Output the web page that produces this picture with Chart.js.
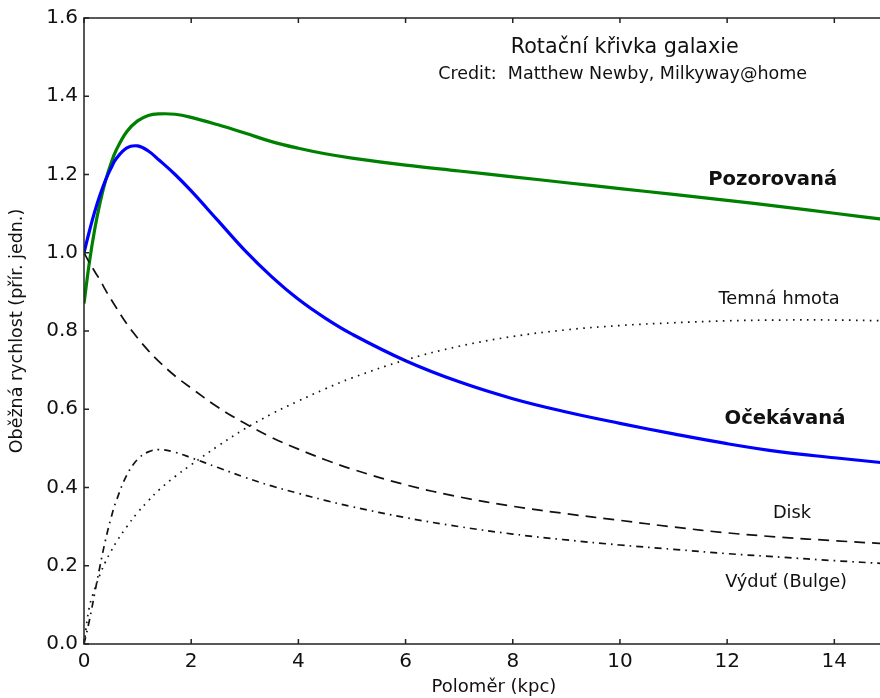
<!DOCTYPE html>
<html>
<head>
<meta charset="utf-8">
<script src="https://cdn.jsdelivr.net/npm/chart.js@4.4.1/dist/chart.umd.min.js"></script>
<style>
  html, body { margin: 0; padding: 0; background: #fff; overflow: hidden; }
  #wrap { width: 880px; height: 698px; overflow: hidden; }
</style>
</head>
<body>
<div id="wrap"><canvas id="rotChart" width="906" height="698"></canvas></div>
<script>
// poloměr (kpc) - společné body pro všechny křivky
const radius = [0, 0.1, 0.2, 0.3, 0.4, 0.5, 0.6, 0.8, 1.0, 1.2, 1.4, 1.7, 2, 2.5, 3, 3.5, 4, 4.5, 5, 6, 7, 8, 9, 10, 11, 12, 13, 14, 15];

// pozorovaná rychlost
const observed = [0.87, 0.975, 1.06, 1.128, 1.183, 1.227, 1.262, 1.31, 1.337, 1.351, 1.355, 1.354, 1.346, 1.327, 1.306, 1.284, 1.267, 1.253, 1.242, 1.224, 1.209, 1.194, 1.179, 1.164, 1.149, 1.134, 1.118, 1.101, 1.084];
// očekávaná rychlost
const expected = [1.0, 1.055, 1.105, 1.148, 1.185, 1.215, 1.24, 1.268, 1.273, 1.26, 1.237, 1.2, 1.158, 1.082, 1.006, 0.939, 0.881, 0.833, 0.792, 0.724, 0.67, 0.627, 0.593, 0.564, 0.537, 0.512, 0.491, 0.476, 0.462];
// temná hmota
const darkMatter = [0, 0.095, 0.14, 0.178, 0.21, 0.236, 0.26, 0.3, 0.336, 0.366, 0.394, 0.428, 0.458, 0.506, 0.55, 0.588, 0.621, 0.652, 0.68, 0.726, 0.761, 0.786, 0.803, 0.814, 0.821, 0.826, 0.828, 0.828, 0.826];
// disk
const disk = [1.0, 0.975, 0.952, 0.93, 0.905, 0.882, 0.86, 0.818, 0.782, 0.75, 0.722, 0.685, 0.654, 0.605, 0.564, 0.528, 0.498, 0.471, 0.447, 0.407, 0.376, 0.352, 0.333, 0.316, 0.299, 0.284, 0.273, 0.264, 0.256];
// výduť (bulge)
const bulge = [0, 0.06, 0.13, 0.2, 0.265, 0.32, 0.365, 0.432, 0.472, 0.491, 0.497, 0.49, 0.476, 0.451, 0.426, 0.404, 0.385, 0.367, 0.351, 0.323, 0.3, 0.281, 0.266, 0.253, 0.242, 0.231, 0.222, 0.213, 0.205];

// popisky v grafu [text, x, y, font]
const FONT = '"DejaVu Sans", Verdana, sans-serif';
const labels = [
    ['Rotační křivka galaxie', 10.09, 1.524, '20.7px ' + FONT],
    ['Credit:  Matthew Newby, Milkyway@home', 10.05, 1.455, '17.5px ' + FONT],
    ['Pozorovaná', 12.85, 1.187, 'bold 19.6px ' + FONT],
    ['Očekávaná', 13.08, 0.576, 'bold 19.6px ' + FONT],
    ['Temná hmota', 12.97, 0.881, '17.8px ' + FONT],
    ['Disk', 13.21, 0.334, '17.8px ' + FONT],
    ['Výduť (Bulge)', 13.1, 0.158, '17.8px ' + FONT]
];

const toPoints = arr => arr.map((v, i) => ({ x: radius[i], y: v }));

// rámeček a vnitřní značky os (jako v matplotlib)
const frame = {
    id: 'frame',
    afterDatasetsDraw(chart) {
        const { ctx, chartArea: a, scales: { x, y } } = chart;
        ctx.save();
        ctx.strokeStyle = '#222';
        ctx.lineWidth = 1.5;
        ctx.beginPath();
        x.ticks.forEach(t => {
            const px = x.getPixelForValue(t.value);
            ctx.moveTo(px, a.bottom); ctx.lineTo(px, a.bottom - 5);
            ctx.moveTo(px, a.top); ctx.lineTo(px, a.top + 5);
        });
        y.ticks.forEach(t => {
            const py = y.getPixelForValue(t.value);
            ctx.moveTo(a.left, py); ctx.lineTo(a.left + 5, py);
            ctx.moveTo(a.right, py); ctx.lineTo(a.right - 5, py);
        });
        ctx.stroke();
        ctx.strokeRect(a.left, a.top, a.right - a.left, a.bottom - a.top);

        ctx.fillStyle = '#111';
        ctx.textAlign = 'center';
        ctx.textBaseline = 'middle';
        labels.forEach(([text, lx, ly, font]) => {
            ctx.font = font;
            ctx.fillText(text, x.getPixelForValue(lx), y.getPixelForValue(ly));
        });
        ctx.restore();
    }
};

const ctx = document.getElementById('rotChart').getContext('2d');
new Chart(ctx, {
    type: 'line',
    data: {
        datasets: [
            { label: 'Temná hmota', data: toPoints(darkMatter), borderColor: '#111', borderWidth: 1.7, borderDash: [1.6, 5.4] },
            { label: 'Disk', data: toPoints(disk), borderColor: '#111', borderWidth: 1.7, borderDash: [11, 7] },
            { label: 'Výduť (Bulge)', data: toPoints(bulge), borderColor: '#111', borderWidth: 1.7, borderDash: [7, 5, 1.6, 5] },
            { label: 'Očekávaná', data: toPoints(expected), borderColor: '#0000ff', borderWidth: 3.2 },
            { label: 'Pozorovaná', data: toPoints(observed), borderColor: '#008000', borderWidth: 3.2 }
        ]
    },
    options: {
        responsive: false,
        animation: false,
        elements: { point: { radius: 0 }, line: { tension: 0.4, fill: false } },
        layout: { padding: { top: 16, right: 2, left: 0, bottom: 0 } },
        plugins: { legend: { display: false }, tooltip: { enabled: false } },
        scales: {
            x: {
                type: 'linear',
                min: 0,
                max: 15.3,
                grid: { display: false, drawTicks: false },
                border: { display: false },
                ticks: { stepSize: 2, includeBounds: false, padding: 6, color: '#111', font: { family: FONT, size: 20 } },
                title: { display: true, text: 'Poloměr (kpc)', color: '#111', font: { family: FONT, size: 18 }, padding: { top: 0, bottom: 0 } },
                afterFit(scale) { scale.height = 54; }
            },
            y: {
                min: 0,
                max: 1.6,
                grid: { display: false, drawTicks: false },
                border: { display: false },
                ticks: { stepSize: 0.2, padding: 6, color: '#111', font: { family: FONT, size: 20 }, callback: v => v.toFixed(1) },
                title: { display: true, text: 'Oběžná rychlost (přír. jedn.)', color: '#111', font: { family: FONT, size: 17.5 }, padding: { top: 7, bottom: 0 } },
                afterFit(scale) { scale.width = 84; }
            }
        }
    },
    plugins: [frame]
});
</script>
</body>
</html>
